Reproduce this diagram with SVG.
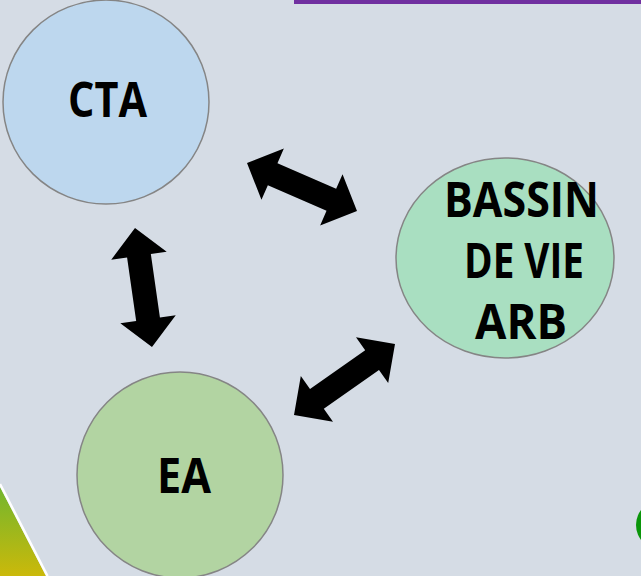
<svg xmlns="http://www.w3.org/2000/svg" width="641" height="576" viewBox="0 0 641 576">
<style>
.node{stroke:#858585;stroke-width:1.5}
.lbl{font-family:"Open Sans","Liberation Sans",sans-serif;font-weight:bold;font-size:47.5px;fill:#000;text-anchor:middle}
.arr{fill:#000}
</style>
<defs>
<linearGradient id="tri" x1="0" y1="0" x2="0" y2="1">
<stop offset="0" stop-color="#72b62e"/>
<stop offset="1" stop-color="#cbb90a"/>
</linearGradient>
</defs>
<rect width="641" height="576" fill="#d5dce5"/>
<rect x="294" y="0" width="347" height="4" fill="#7030a0"/>
<polygon points="0,487 46,576 0,576" fill="url(#tri)"/>
<line x1="0" y1="484" x2="47.5" y2="576" stroke="#ffffff" stroke-width="2.5"/>
<circle cx="661" cy="525" r="25" fill="#0a960a"/>
<g id="cta">
<ellipse class="node" cx="106" cy="102" rx="103" ry="102" fill="#bdd7ee"/>
<text class="lbl" x="107.5" y="117" textLength="79" lengthAdjust="spacingAndGlyphs">CTA</text>
</g>
<g id="bassin">
<ellipse class="node" cx="505" cy="258" rx="109" ry="100" fill="#a9dfc1"/>
<text class="lbl" x="521.5" y="217" textLength="155" lengthAdjust="spacingAndGlyphs">BASSIN</text>
<text class="lbl" x="524" y="278" textLength="120" lengthAdjust="spacingAndGlyphs">DE VIE</text>
<text class="lbl" x="521" y="339" textLength="92" lengthAdjust="spacingAndGlyphs">ARB</text>
</g>
<g id="ea">
<circle class="node" cx="180" cy="475" r="103" fill="#b2d4a2"/>
<text class="lbl" x="184" y="493" textLength="54" lengthAdjust="spacingAndGlyphs">EA</text>
</g>
<g id="connectors">
<polygon class="arr" points="247,163 283.86,148.54 277.46,163.2 336.14,188.8 342.54,174.14 357,211 320.14,225.46 326.54,210.8 267.86,185.2 261.46,199.86"/>
<polygon class="arr" points="135,228 166.68,251.76 150.84,254.02 159.92,317.58 175.76,315.32 152,347 120.32,323.24 136.16,320.98 127.08,257.42 111.24,259.68"/>
<polygon class="arr" points="294,415 300.81,375.99 310.01,389.08 365.19,350.28 355.99,337.19 395,344 388.19,383.01 378.99,369.92 323.81,408.72 333.01,421.81"/>
</g>
</svg>
